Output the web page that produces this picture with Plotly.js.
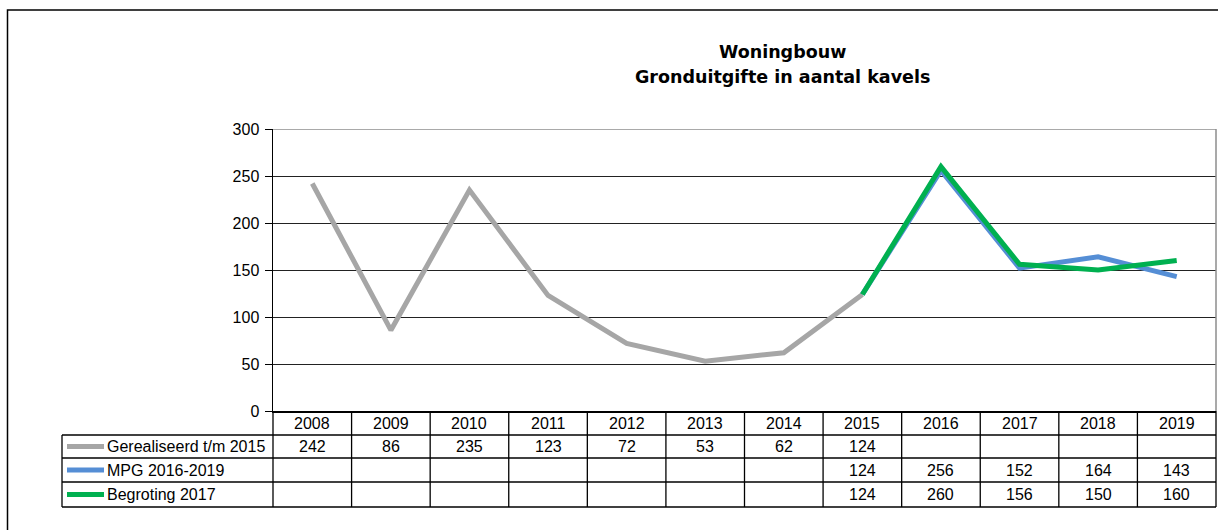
<!DOCTYPE html>
<html>
<head>
<meta charset="utf-8">
<script src="https://cdn.plot.ly/plotly-3.0.1.min.js"></script>
<style>html,body{margin:0;padding:0;background:#fff;}#chart{width:1218px;height:530px;}</style>
</head>
<body>
<div id="chart"></div>
<script>
const years = ["2008","2009","2010","2011","2012","2013","2014","2015","2016","2017","2018","2019"];
const gerealiseerd = [242, 86, 235, 123, 72, 53, 62, 124, null, null, null, null];
const mpg = [null, null, null, null, null, null, null, 124, 256, 152, 164, 143];
const begroting = [null, null, null, null, null, null, null, 124, 260, 156, 150, 160];
const seriesNames = ["Gerealiseerd t/m 2015", "MPG 2016-2019", "Begroting 2017"];
const seriesColors = ["#A6A6A6", "#558ED5", "#00B050"];
const titleLines = ["Woningbouw", "Gronduitgifte in aantal kavels"];

const W = 1218, H = 530;
const L = 273, R = 1216, T = 129, B = 411;
const pw = R - L, ph = B - T;
const px = p => (p - L) / pw;
const py = p => (B - p) / ph;
// x position (paper) of category index
const cx = i => (i + 0.5) / years.length;

const seriesData = [gerealiseerd, mpg, begroting];
const traces = seriesData.map((d, i) => ({
  x: years, y: d, type: 'scatter', mode: 'lines', name: seriesNames[i],
  line: {color: seriesColors[i], width: 5}, connectgaps: false, hoverinfo: 'skip'
}));

const rowEdges = [411, 435, 458, 482, 507];
const legendLeft = 62;
const shapes = [];
const annotations = [];
const lineStyle = {color: '#000', width: 1.3};

// outer chart border
shapes.push({type: 'rect', xref: 'paper', yref: 'paper', x0: px(7.5), x1: px(1240), y0: py(10), y1: py(560), line: {color: '#000', width: 1.5}, fillcolor: 'rgba(0,0,0,0)', layer: 'below'});
// plot-area top & right border
shapes.push({type: 'line', xref: 'paper', yref: 'y', x0: 0, x1: 1, y0: 300, y1: 300, line: {color: '#8C8C8C', width: 1.5}});
shapes.push({type: 'line', xref: 'paper', yref: 'paper', x0: 1, x1: 1, y0: 0, y1: 1, line: {color: '#8C8C8C', width: 1.5}});

// table horizontal lines
for (let k = 1; k < rowEdges.length; k++) {
  shapes.push({type: 'line', xref: 'paper', yref: 'paper', x0: px(legendLeft), x1: 1, y0: py(rowEdges[k]), y1: py(rowEdges[k]), line: lineStyle});
}
// table vertical lines at category boundaries
for (let i = 0; i <= years.length; i++) {
  shapes.push({type: 'line', xref: 'paper', yref: 'paper', x0: i / years.length, x1: i / years.length, y0: py(rowEdges[0]), y1: py(rowEdges[4]), line: lineStyle});
}
// legend column left border
shapes.push({type: 'line', xref: 'paper', yref: 'paper', x0: px(legendLeft), x1: px(legendLeft), y0: py(rowEdges[1]), y1: py(rowEdges[4]), line: lineStyle});

const cellFont = {family: 'Liberation Sans, Arial, sans-serif', size: 16, color: '#000'};
// header years
years.forEach((yr, i) => {
  annotations.push({xref: 'paper', yref: 'paper', x: cx(i), y: py((rowEdges[0] + rowEdges[1]) / 2), text: yr, showarrow: false, font: cellFont, xanchor: 'center', yanchor: 'middle'});
});
// rows
seriesData.forEach((d, s) => {
  const yc = py((rowEdges[s + 1] + rowEdges[s + 2]) / 2);
  d.forEach((v, i) => {
    if (v !== null) annotations.push({xref: 'paper', yref: 'paper', x: cx(i), y: yc, text: String(v), showarrow: false, font: cellFont, xanchor: 'center', yanchor: 'middle'});
  });
  shapes.push({type: 'line', xref: 'paper', yref: 'paper', x0: px(67), x1: px(104), y0: yc, y1: yc, line: {color: seriesColors[s], width: 5}});
  annotations.push({xref: 'paper', yref: 'paper', x: px(105), y: yc, text: seriesNames[s], showarrow: false, font: cellFont, xanchor: 'left', yanchor: 'middle'});
});

// title
const titleFont = {family: 'DejaVu Sans, sans-serif', size: 17.5, color: '#000'};
annotations.push({xref: 'paper', yref: 'paper', x: px(782), y: py(52), text: '<b>' + titleLines[0] + '</b>', showarrow: false, font: titleFont, xanchor: 'center', yanchor: 'middle'});
annotations.push({xref: 'paper', yref: 'paper', x: px(782), y: py(77), text: '<b>' + titleLines[1] + '</b>', showarrow: false, font: titleFont, xanchor: 'center', yanchor: 'middle'});

const layout = {
  width: W, height: H,
  margin: {l: L, r: W - R, t: T, b: H - B, pad: 0},
  paper_bgcolor: '#fff', plot_bgcolor: '#fff',
  showlegend: false,
  xaxis: {type: 'category', range: [-0.5, years.length - 0.5], showticklabels: false, ticks: '', showgrid: false, zeroline: false, showline: true, linecolor: '#000', linewidth: 1.5, fixedrange: true},
  yaxis: {range: [0, 300], tickvals: [0, 50, 100, 150, 200, 250, 300], ticks: 'outside', ticklen: 7, tickcolor: '#000', tickwidth: 1, ticklabelstandoff: 2,
          showgrid: true, gridcolor: '#222', gridwidth: 1, zeroline: false, showline: true, linecolor: '#000', linewidth: 1.5,
          tickfont: {family: 'Liberation Sans, Arial, sans-serif', size: 16, color: '#000'}, fixedrange: true},
  shapes: shapes,
  annotations: annotations
};

Plotly.newPlot('chart', traces, layout, {staticPlot: true, displayModeBar: false});
</script>
</body>
</html>
